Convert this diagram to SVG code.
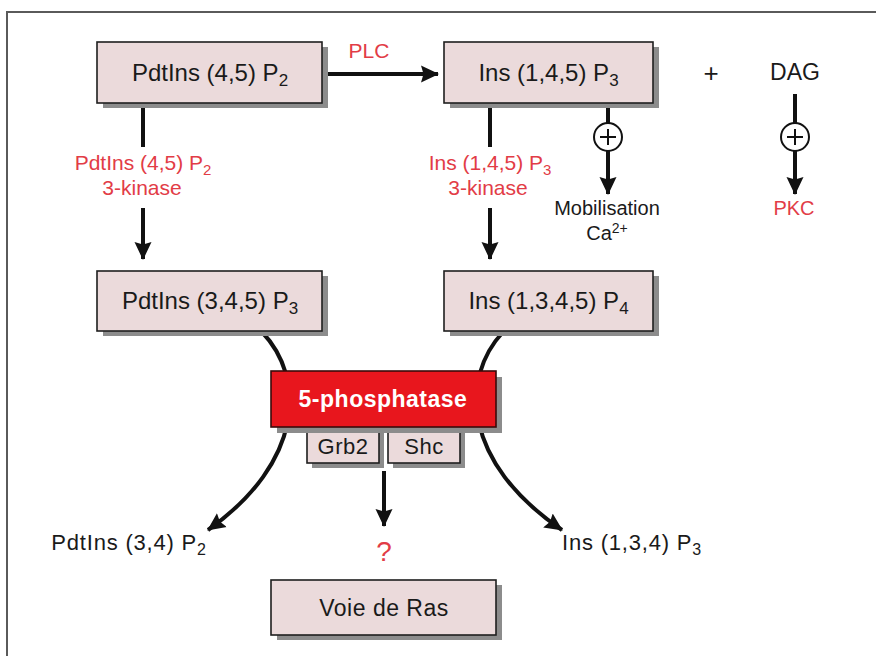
<svg xmlns="http://www.w3.org/2000/svg" width="876" height="656" viewBox="0 0 876 656">
<defs>
<marker id="ah" markerUnits="userSpaceOnUse" markerWidth="18" markerHeight="18" viewBox="0 0 18 18" refX="17" refY="9" orient="auto">
<path d="M0,0.5 L18,9 L0,17.5 L2.5,9 Z" fill="#111"/>
</marker>
</defs>
<style>
.box{fill:#ebdadb;stroke:#1e1e1e;stroke-width:1.6}
.shadow{fill:#8c8c8c}
.red{fill:#e8161d;stroke:#3a0b0b;stroke-width:1.6}
.lbl{font-family:"Liberation Sans",Arial,sans-serif;font-size:24px;fill:#1a1a1a;text-anchor:middle}
.rlbl{font-family:"Liberation Sans",Arial,sans-serif;font-size:21px;fill:#e23c46;text-anchor:middle}
.blbl{font-family:"Liberation Sans",Arial,sans-serif;font-size:22px;fill:#1a1a1a;text-anchor:middle;letter-spacing:0.5px}
.wlbl{font-family:"Liberation Sans",Arial,sans-serif;font-size:23px;font-weight:bold;fill:#fff;text-anchor:middle;letter-spacing:0.5px}
.ln{stroke:#111;stroke-width:4;fill:none}
.arr{stroke:#111;stroke-width:4;fill:none;marker-end:url(#ah)}
.circ{fill:#fff;stroke:#111;stroke-width:2}
.pl{stroke:#111;stroke-width:2}
</style>
<rect width="876" height="656" fill="#fff"/>
<path d="M7,656 L7,12 L876,12" fill="none" stroke="#5a5a5a" stroke-width="2"/>

<g id="connectors">
<line class="arr" x1="322" y1="74" x2="438" y2="74"/>
<line class="ln" x1="143" y1="103" x2="143" y2="147"/>
<line class="arr" x1="143" y1="208" x2="143" y2="259"/>
<line class="ln" x1="490" y1="103" x2="490" y2="147"/>
<line class="arr" x1="490" y1="208" x2="490" y2="259"/>
<line class="arr" x1="608" y1="103" x2="608" y2="194"/>
<line class="arr" x1="795" y1="94" x2="795" y2="194"/>
<path class="arr" d="M262,332 C306,378 304,462 208,530"/>
<path class="arr" d="M503,332 C460,378 462,462 562,530"/>
<line class="arr" x1="384" y1="471" x2="384" y2="526"/>
<g id="plus-ca">
<circle class="circ" cx="608" cy="137" r="14"/>
<line class="pl" x1="600" y1="137" x2="616" y2="137"/>
<line class="pl" x1="608" y1="129" x2="608" y2="145"/>
</g>
<g id="plus-pkc">
<circle class="circ" cx="795" cy="137" r="14"/>
<line class="pl" x1="787" y1="137" x2="803" y2="137"/>
<line class="pl" x1="795" y1="129" x2="795" y2="145"/>
</g>
</g>

<g id="n-pip2">
<rect class="shadow" x="103" y="47" width="225" height="61"/>
<rect class="box" x="97" y="42" width="225" height="61"/>
<text class="lbl" x="210" y="81">PdtIns (4,5) P<tspan font-size="17" dy="5">2</tspan></text>
</g>
<g id="n-ip3">
<rect class="shadow" x="450" y="47" width="209" height="61"/>
<rect class="box" x="444" y="42" width="209" height="61"/>
<text class="lbl" x="548.5" y="81">Ins (1,4,5) P<tspan font-size="17" dy="5">3</tspan></text>
</g>
<g id="n-pip3">
<rect class="shadow" x="103" y="276" width="225" height="60"/>
<rect class="box" x="97" y="271" width="225" height="60"/>
<text class="lbl" x="210" y="309">PdtIns (3,4,5) P<tspan font-size="17" dy="5">3</tspan></text>
</g>
<g id="n-ip4">
<rect class="shadow" x="450" y="276" width="209" height="60"/>
<rect class="box" x="444" y="271" width="209" height="60"/>
<text class="lbl" x="548.5" y="309">Ins (1,3,4,5) P<tspan font-size="17" dy="5">4</tspan></text>
</g>
<g id="n-grb2">
<rect class="shadow" x="312" y="431" width="72" height="37"/>
<rect class="box" x="307" y="427" width="72" height="36"/>
<text class="blbl" x="343" y="454">Grb2</text>
</g>
<g id="n-shc">
<rect class="shadow" x="393" y="431" width="72" height="37"/>
<rect class="box" x="388" y="427" width="72" height="36"/>
<text class="blbl" x="424" y="454">Shc</text>
</g>
<g id="n-phosphatase">
<rect class="shadow" x="277" y="377" width="225" height="56"/>
<rect class="red" x="271" y="371" width="225" height="56"/>
<text class="wlbl" x="383" y="407">5-phosphatase</text>
</g>
<g id="n-ras">
<rect class="shadow" x="277" y="585" width="225" height="55"/>
<rect class="box" x="271" y="580" width="225" height="55"/>
<text class="blbl" x="384" y="616" style="font-size:23px">Voie de Ras</text>
</g>

<g id="labels">
<text class="rlbl" x="369" y="58">PLC</text>
<text class="rlbl" x="143" y="170">PdtIns (4,5) P<tspan font-size="15" dy="5">2</tspan></text>
<text class="rlbl" x="142" y="195">3-kinase</text>
<text class="rlbl" x="490" y="170">Ins (1,4,5) P<tspan font-size="15" dy="5">3</tspan></text>
<text class="rlbl" x="488" y="195">3-kinase</text>
<text class="lbl" x="711" y="82" style="font-size:26px">+</text>
<text class="lbl" x="795" y="80" style="font-size:23px">DAG</text>
<text class="rlbl" x="794" y="215" style="font-size:20px">PKC</text>
<text class="blbl" x="607" y="215" style="font-size:20px;letter-spacing:0">Mobilisation</text>
<text class="blbl" x="607" y="240" style="font-size:20px;letter-spacing:0">Ca<tspan font-size="14" dy="-7">2+</tspan></text>
<text class="blbl" x="129" y="550" style="letter-spacing:0.8px">PdtIns (3,4) P<tspan font-size="16" dy="5">2</tspan></text>
<text class="blbl" x="632" y="550" style="letter-spacing:0.8px">Ins (1,3,4) P<tspan font-size="16" dy="5">3</tspan></text>
<text class="rlbl" x="384" y="561" style="font-size:28px">?</text>
</g>
</svg>
